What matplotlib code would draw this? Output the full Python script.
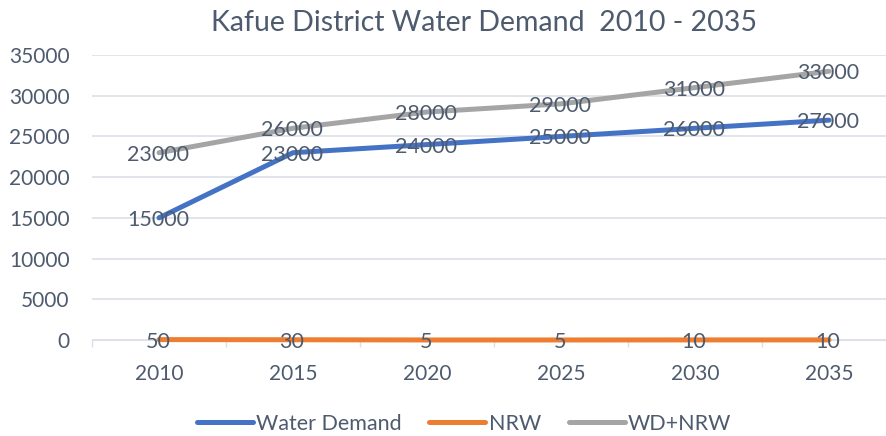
import matplotlib
matplotlib.use("Agg")
import matplotlib.pyplot as plt
import numpy as np

years = ["2010", "2015", "2020", "2025", "2030", "2035"]
water_demand = [15000, 23000, 24000, 25000, 26000, 27000]
nrw = [50, 30, 5, 5, 10, 10]
wd_nrw = [23000, 26000, 28000, 29000, 31000, 33000]
yticks = [0, 5000, 10000, 15000, 20000, 25000, 30000, 35000]

plt.rcParams['font.family'] = ['Lato', 'DejaVu Sans']
txt = '#4E5B6E'
grid = '#DCE0E8'

fig = plt.figure(figsize=(8.86, 4.36), dpi=100)
ax = fig.add_axes([92/886, 96/436, 804/886, 285/436])
x = np.arange(len(years))

series = [("Water Demand", water_demand, '#4472C4'),
          ("NRW", nrw, '#ED7D31'),
          ("WD+NRW", wd_nrw, '#A5A5A5')]
for name, vals, c in series:
    ax.plot(x, vals, color=c, lw=3.6, label=name, solid_capstyle='round', zorder=3,
            clip_on=False)
for name, vals, c in series:
    for xi, v in zip(x, vals):
        ax.annotate(str(v), (xi, v), xytext=(-1, -2), textcoords='offset pixels',
                    ha='center', va='center', fontsize=15.5, color=txt, zorder=4)

ax.set_xlim(-0.5, 5.5)
ax.set_ylim(0, 35000)
ax.set_yticks(yticks)
ax.set_yticklabels([str(t) for t in yticks])
ax.set_xticks(x)
ax.set_xticklabels(years)
ax.set_xticks(np.arange(-0.5, 6, 1), minor=True)
ax.tick_params(axis='x', which='major', length=0, pad=17, labelsize=15, labelcolor=txt)
ax.tick_params(axis='x', which='minor', length=5, color=grid, width=1)
ax.tick_params(axis='y', length=0, pad=16, labelsize=15, labelcolor=txt)
ax.grid(axis='y', color=grid, lw=1.2)
ax.set_axisbelow(True)
for s in ['top', 'right', 'left']:
    ax.spines[s].set_visible(False)
ax.spines['bottom'].set_color(grid)

fig.text(484/886, 1 - 23/436, "Kafue District Water Demand  2010 - 2035", ha='center',
         va='center', fontsize=20.5, color=txt)
fig.legend(loc='center', bbox_to_anchor=(464/886, 1 - 424/436), ncol=3, frameon=False,
           fontsize=15.5, labelcolor=txt, handlelength=2.6, columnspacing=1.3,
           handletextpad=0.15)

fig.savefig("out.png", dpi=100)
